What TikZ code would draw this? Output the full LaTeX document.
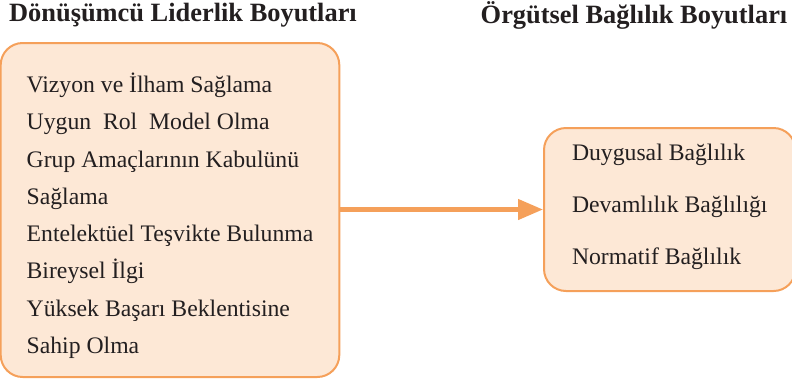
\documentclass[tikz,border=0pt]{standalone}
\usepackage{fontspec}
\setmainfont{Liberation Serif}
\usetikzlibrary{arrows.meta,positioning}
\definecolor{boxfill}{HTML}{FDE8D6}
\definecolor{boxline}{HTML}{F5A05A}
\definecolor{txt}{HTML}{231F20}
\tikzset{%
    hdr/.style={text=txt, inner sep=0pt, font=\fontsize{26.4}{30}\selectfont\bfseries},
    dim/.style={draw=boxline, fill=boxfill, line width=2pt, rounded corners=22pt,
                text=txt, align=left, font=\fontsize{23.7}{37.3}\selectfont},
    pra/.style={draw=boxline, line width=4.5pt, -{Triangle[length=25pt,width=20pt]}}
}

\begin{document}
\begin{tikzpicture}[x=1pt,y=-1pt]
    \useasboundingbox (0,0) rectangle (792,381);
    \node[hdr] (hl) at (183,15) {Dönüşümcü Liderlik Boyutları};
    \node[hdr] (hr) at (634,15) {Örgütsel Bağlılık Boyutları};
    \node[dim, inner xsep=26pt, minimum width=338pt, minimum height=334pt] (lbox) at (170,210)
        {\rule{0pt}{31pt}Vizyon ve İlham Sağlama\\Uygun\ \ Rol\ \ Model Olma\\Grup Amaçlarının Kabulünü\\Sağlama\\
         Entelektüel Teşvikte Bulunma\\Bireysel İlgi\\Yüksek Başarı Beklentisine\\Sahip Olma};
    \node[dim, inner xsep=28pt, minimum width=249pt, minimum height=163pt,
          font=\fontsize{23.7}{52}\selectfont, anchor=west] (rbox) at (543,209.5)
        {Duygusal Bağlılık\\Devamlılık Bağlılığı\\Normatif Bağlılık\rule[-10pt]{0pt}{1pt}};
    \draw[pra] (lbox.east |- rbox.west) -- (rbox.west);
\end{tikzpicture}
\end{document}
